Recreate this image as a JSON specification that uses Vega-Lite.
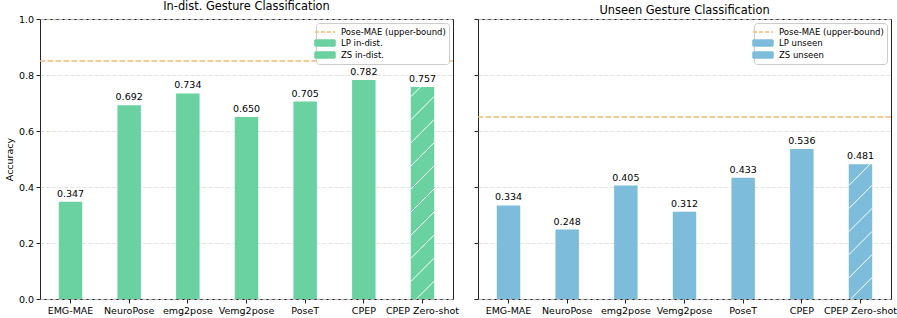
{
  "$schema": "https://vega.github.io/schema/vega-lite/v6.json",
  "padding": {"left": 3, "top": 0, "right": 0, "bottom": 0},
  "background": "white",
  "datasets": {
    "indist": [
      {"model": "EMG-MAE", "acc": 0.347, "series": "LP in-dist."},
      {"model": "NeuroPose", "acc": 0.692, "series": "LP in-dist."},
      {"model": "emg2pose", "acc": 0.734, "series": "LP in-dist."},
      {"model": "Vemg2pose", "acc": 0.650, "series": "LP in-dist."},
      {"model": "PoseT", "acc": 0.705, "series": "LP in-dist."},
      {"model": "CPEP", "acc": 0.782, "series": "LP in-dist."},
      {"model": "CPEP Zero-shot", "acc": 0.757, "series": "ZS in-dist."}
    ],
    "unseen": [
      {"model": "EMG-MAE", "acc": 0.334, "series": "LP unseen"},
      {"model": "NeuroPose", "acc": 0.248, "series": "LP unseen"},
      {"model": "emg2pose", "acc": 0.405, "series": "LP unseen"},
      {"model": "Vemg2pose", "acc": 0.312, "series": "LP unseen"},
      {"model": "PoseT", "acc": 0.433, "series": "LP unseen"},
      {"model": "CPEP", "acc": 0.536, "series": "LP unseen"},
      {"model": "CPEP Zero-shot", "acc": 0.481, "series": "ZS unseen"}
    ],
    "ub_in": [{"acc": 0.85, "series": "Pose-MAE (upper-bound)"}],
    "ub_un": [{"acc": 0.65, "series": "Pose-MAE (upper-bound)"}]
  },
  "hconcat": [
    {
      "width": 413,
      "height": 280,
      "title": "In-dist. Gesture Classification",
      "layer": [
        {
          "data": {"name": "indist"},
          "mark": {"type": "bar"},
          "encoding": {
            "x": {"field": "model", "type": "nominal", "sort": null, "scale": {"paddingInner": 0.6, "paddingOuter": 0.32}, "axis": {"title": null}},
            "y": {"field": "acc", "type": "quantitative", "scale": {"domain": [0, 1]}, "axis": {"title": "Accuracy", "values": [0, 0.2, 0.4, 0.6, 0.8, 1.0], "format": ".1f"}},
            "color": {
              "field": "series", "type": "nominal",
              "scale": {"domain": ["Pose-MAE (upper-bound)", "LP in-dist.", "ZS in-dist."], "range": ["#F5BA70", "#69D2A0", "#69D2A0"]},
              "legend": {
                "orient": "top-right", "title": null, "offset": 4, "padding": 3, "rowPadding": -1.5,
                "fillColor": "white", "strokeColor": "#cccccc", "cornerRadius": 3,
                "labelFontSize": 8.5, "labelFont": "DejaVu Sans", "labelColor": "#000", "symbolSize": 100, "labelOffset": 10,
                "encode": {
                  "symbols": {
                    "update": {
                      "shape": {"signal": "datum.value === 'Pose-MAE (upper-bound)' ? 'M-2,0L2,0' : 'M-2,-0.6L2,-0.6L2,0.6L-2,0.6Z'"},
                      "fill": {"signal": "datum.value === 'Pose-MAE (upper-bound)' ? 'transparent' : '#69D2A0'"},
                      "stroke": {"signal": "datum.value === 'Pose-MAE (upper-bound)' ? '#F5BA70' : 'transparent'"},
                      "strokeDash": {"signal": "datum.value === 'Pose-MAE (upper-bound)' ? [4, 2] : [1, 0]"},
                      "strokeWidth": {"value": 1.5},
                      "opacity": {"value": 1}
                    }
                  }
                }
              }
            }
          }
        },
        {
          "data": {"name": "ub_in"},
          "mark": {"type": "rule", "strokeDash": [5.5, 2.5], "strokeWidth": 1.5},
          "encoding": {
            "y": {"field": "acc", "type": "quantitative"},
            "color": {"field": "series", "type": "nominal"}
          }
        },
        {
          "data": {"name": "indist"},
          "mark": {"type": "text", "baseline": "bottom", "dy": -3, "fontSize": 9.5, "color": "#000"},
          "encoding": {
            "x": {"field": "model", "type": "nominal", "sort": null},
            "y": {"field": "acc", "type": "quantitative"},
            "text": {"field": "acc", "type": "quantitative", "format": ".3f"}
          }
        },
        {
          "data": {"name": "indist"},
          "transform": [{"filter": "datum.series === 'ZS in-dist.'"}],
          "mark": {"type": "point", "filled": false, "color": "white", "opacity": 1, "strokeWidth": 1, "size": 4,
            "shape": "M-11.7,9.7L-2,0M-11.7,32.85L11.7,9.35M-11.7,55.95L11.7,32.45M-11.7,79.05L11.7,55.55M-11.7,102.15L11.7,78.65M-11.7,125.25L11.7,101.75M-11.7,148.35L11.7,124.85M-11.7,171.45L11.7,147.95M-11.7,194.55L11.7,171.05M-6.1,211.9L11.7,194.15"},
          "encoding": {
            "x": {"field": "model", "type": "nominal", "sort": null},
            "y": {"field": "acc", "type": "quantitative"}
          }
        }
      ]
    },
    {
      "width": 413,
      "height": 280,
      "title": "Unseen Gesture Classification",
      "layer": [
        {
          "data": {"name": "unseen"},
          "mark": {"type": "bar"},
          "encoding": {
            "x": {"field": "model", "type": "nominal", "sort": null, "scale": {"paddingInner": 0.6, "paddingOuter": 0.32}, "axis": {"title": null}},
            "y": {"field": "acc", "type": "quantitative", "scale": {"domain": [0, 1]}, "axis": {"title": null, "labels": false, "values": [0, 0.2, 0.4, 0.6, 0.8, 1.0]}},
            "color": {
              "field": "series", "type": "nominal",
              "scale": {"domain": ["Pose-MAE (upper-bound)", "LP unseen", "ZS unseen"], "range": ["#F5BA70", "#7EBCDC", "#7EBCDC"]},
              "legend": {
                "orient": "top-right", "title": null, "offset": 4, "padding": 3, "rowPadding": -1.5,
                "fillColor": "white", "strokeColor": "#cccccc", "cornerRadius": 3,
                "labelFontSize": 8.5, "labelFont": "DejaVu Sans", "labelColor": "#000", "symbolSize": 100, "labelOffset": 10,
                "encode": {
                  "symbols": {
                    "update": {
                      "shape": {"signal": "datum.value === 'Pose-MAE (upper-bound)' ? 'M-2,0L2,0' : 'M-2,-0.6L2,-0.6L2,0.6L-2,0.6Z'"},
                      "fill": {"signal": "datum.value === 'Pose-MAE (upper-bound)' ? 'transparent' : '#7EBCDC'"},
                      "stroke": {"signal": "datum.value === 'Pose-MAE (upper-bound)' ? '#F5BA70' : 'transparent'"},
                      "strokeDash": {"signal": "datum.value === 'Pose-MAE (upper-bound)' ? [4, 2] : [1, 0]"},
                      "strokeWidth": {"value": 1.5},
                      "opacity": {"value": 1}
                    }
                  }
                }
              }
            }
          }
        },
        {
          "data": {"name": "ub_un"},
          "mark": {"type": "rule", "strokeDash": [5.5, 2.5], "strokeWidth": 1.5},
          "encoding": {
            "y": {"field": "acc", "type": "quantitative"},
            "color": {"field": "series", "type": "nominal"}
          }
        },
        {
          "data": {"name": "unseen"},
          "mark": {"type": "text", "baseline": "bottom", "dy": -3, "fontSize": 9.5, "color": "#000"},
          "encoding": {
            "x": {"field": "model", "type": "nominal", "sort": null},
            "y": {"field": "acc", "type": "quantitative"},
            "text": {"field": "acc", "type": "quantitative", "format": ".3f"}
          }
        },
        {
          "data": {"name": "unseen"},
          "transform": [{"filter": "datum.series === 'ZS unseen'"}],
          "mark": {"type": "point", "filled": false, "color": "white", "opacity": 1, "strokeWidth": 1, "size": 4,
            "shape": "M-11.7,21.2L9.44,0M-11.7,44.29L11.7,20.79M-11.7,67.39L11.7,43.89M-11.7,90.49L11.7,66.99M-11.7,113.59L11.7,90.09M-9.74,134.6L11.7,113.19"},
          "encoding": {
            "x": {"field": "model", "type": "nominal", "sort": null},
            "y": {"field": "acc", "type": "quantitative"}
          }
        }
      ]
    }
  ],
  "spacing": 13,
  "resolve": {"scale": {"color": "independent", "x": "independent", "y": "independent"}, "legend": {"color": "independent"}},
  "config": {
    "font": "DejaVu Sans",
    "view": {"stroke": "#222", "strokeWidth": 1},
    "axis": {
      "labelFont": "DejaVu Sans", "labelFontSize": 9.5, "labelColor": "#000",
      "tickColor": "#222", "tickSize": 4, "domain": false, "labelPadding": 2.5,
      "titleFont": "DejaVu Sans", "titleFontSize": 9.5, "titleFontWeight": "normal", "titleColor": "#000", "titlePadding": 4
    },
    "axisY": {"grid": true, "gridDash": [4, 2], "gridColor": "#dcdcdc", "gridWidth": 0.8},
    "axisX": {"grid": false, "labelAngle": 0},
    "title": {"font": "DejaVu Sans", "fontSize": 11.4, "fontWeight": "normal", "color": "#000", "offset": 2}
  }
}
